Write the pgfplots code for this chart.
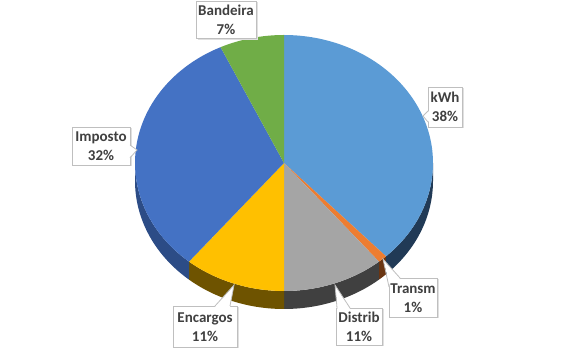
\documentclass[border=0pt]{standalone}
\usepackage{pgfplots}
\pgfplotsset{compat=1.18}
\usepgfplotslibrary{fillbetween}
\usepackage{fontspec}
\setmainfont{Carlito}
\definecolor{ckwh}{HTML}{5B9BD5}
\definecolor{ctra}{HTML}{ED7D31}
\definecolor{cdis}{HTML}{A5A5A5}
\definecolor{cenc}{HTML}{FFC000}
\definecolor{cimp}{HTML}{4472C4}
\definecolor{cban}{HTML}{70AD47}
\definecolor{skwh}{HTML}{213A56}
\definecolor{stra}{HTML}{6A3512}
\definecolor{sdis}{HTML}{404040}
\definecolor{senc}{HTML}{6E5300}
\definecolor{simp}{HTML}{2C4C86}
\definecolor{tgray}{HTML}{404040}
\definecolor{bgray}{HTML}{BFBFBF}
% slice: start percent, value percent, colour
\newcommand{\topslice}[3]{%
  \addplot[fill=#3, draw=none, domain=90-3.6*(#1+#2):90-3.6*(#1), samples=90]
    ({284+149*cos(x)},{163-128*sin(x)}) -- (284,163) -- cycle;
}
% side: angle a, angle b, colour, name
\newcommand{\sideslice}[4]{%
  \addplot[name path=T#4, draw=none, domain=#1:#2, samples=60]
    ({284+149*cos(x)},{163-128*sin(x)});
  \addplot[name path=B#4, draw=none, domain=#1:#2, samples=60]
    ({284+149*cos(x)},{181-128*sin(x)});
  \addplot[fill=#3, draw=none] fill between[of=T#4 and B#4];
}
\newcommand{\lab}[3]{\node[font=\bfseries\fontsize{15bp}{18.5bp}\selectfont, text=tgray, align=center, inner sep=0pt] at (#1,#2) {#3};}
\begin{document}
\begin{tikzpicture}
\begin{axis}[scale only axis, width=567bp, height=352bp,
  xmin=0, xmax=567, ymin=0, ymax=352, y dir=reverse, hide axis, clip=false]
\path (0,0) -- (567,352);
% sides (lower half only)
\sideslice{90-3.6*38}{0}{skwh}{a}
\sideslice{90-3.6*39}{90-3.6*38}{stra}{b}
\sideslice{90-3.6*50}{90-3.6*39}{sdis}{c}
\sideslice{90-3.6*61}{90-3.6*50}{senc}{d}
\sideslice{-180}{90-3.6*61}{simp}{e}
% top face: kWh 38, Transm 1, Distrib 11, Encargos 11, Imposto 32, Bandeira 7
\topslice{0}{38}{ckwh}
\topslice{38}{1}{ctra}
\topslice{39}{11}{cdis}
\topslice{50}{11}{cenc}
\topslice{61}{32}{cimp}
\topslice{93}{7}{cban}
% callouts
% shadows
\fill[black!12] (198,2.5) rectangle (258,40);
\fill[black!12] (429.5,88.5) rectangle (463.5,128.5);
\fill[black!12] (390.5,279.5) rectangle (438.5,318.5);
\fill[black!12] (337.5,309.5) rectangle (383.5,346.5);
\fill[black!12] (174.5,307.5) rectangle (238.5,348.5);
\fill[black!12] (73.5,128.5) rectangle (131.5,166.5);
% boxes
\filldraw[fill=white, draw=bgray, line width=0.8bp] (196,1) rectangle (256,38.5);
\filldraw[fill=white, draw=bgray, line width=0.8bp] (428,87) rectangle (462,127);
\filldraw[fill=white, draw=bgray, line width=0.8bp] (389,278) rectangle (437,317);
\filldraw[fill=white, draw=bgray, line width=0.8bp] (336,308) rectangle (382,345);
\filldraw[fill=white, draw=bgray, line width=0.8bp] (173,306) rectangle (237,347);
\filldraw[fill=white, draw=bgray, line width=0.8bp] (72,127) rectangle (130,165);
% pointers
\fill[white] (429,111) -- (423,116) -- (429,122) -- cycle;
\draw[bgray, line width=0.8bp] (428,111) -- (423,116) -- (428,122);
\fill[white] (390,287) -- (383,259) -- (400,279) -- (390,279) -- cycle;
\draw[bgray, line width=0.8bp] (389,287) -- (383,259) -- (400,278);
\fill[white] (337.5,309) -- (335,285) -- (350,309) -- cycle;
\draw[bgray, line width=0.8bp] (337,308) -- (335,285) -- (350,308);
\fill[white] (215,307) -- (234,285) -- (230,307) -- cycle;
\draw[bgray, line width=0.8bp] (215,306) -- (234,285) -- (230,306);
\fill[white] (129,145) -- (137,150) -- (129,158) -- cycle;
\draw[bgray, line width=0.8bp] (130,145) -- (137,150) -- (130,158);
% texts
\lab{226}{20}{Bandeira\\7\%}
\lab{445}{107}{kWh\\38\%}
\lab{413}{298}{Transm\\1\%}
\lab{359}{327}{Distrib\\11\%}
\lab{205}{327}{Encargos\\11\%}
\lab{101}{146}{Imposto\\32\%}
\end{axis}
\end{tikzpicture}
\end{document}
